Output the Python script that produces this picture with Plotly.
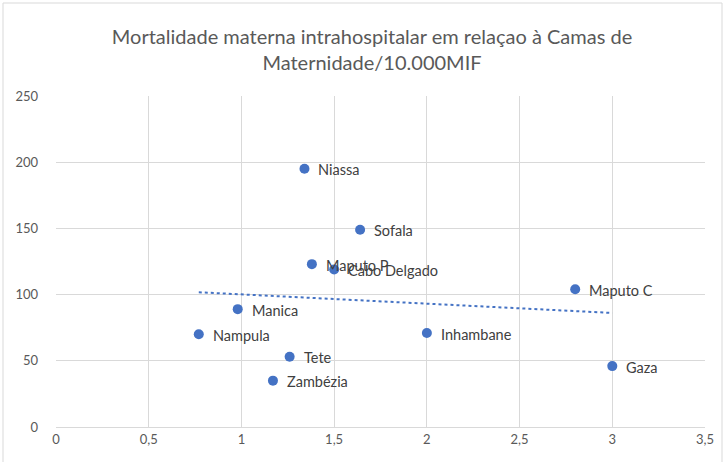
import numpy as np
import plotly.graph_objects as go

provinces = ["Niassa", "Sofala", "Maputo P", "Cabo Delgado", "Maputo C", "Manica",
             "Nampula", "Inhambane", "Tete", "Zambézia", "Gaza"]
camas = [1.34, 1.64, 1.38, 1.50, 2.80, 0.98, 0.77, 2.00, 1.26, 1.17, 3.00]
mortalidade = [195, 149, 123, 119, 104, 89, 70, 71, 53, 35, 46]

x_ticks = [0, 0.5, 1, 1.5, 2, 2.5, 3, 3.5]
x_tick_labels = ["0", "0,5", "1", "1,5", "2", "2,5", "3", "3,5"]
y_ticks = [0, 50, 100, 150, 200, 250]

slope, intercept = np.polyfit(camas, mortalidade, 1)
tx = [min(camas), max(camas)]
ty = [slope * v + intercept for v in tx]

FONT = "Lato, Open Sans, sans-serif"

fig = go.Figure()
fig.add_trace(go.Scatter(x=camas, y=mortalidade, mode="markers",
                         marker=dict(color="#4472C4", size=10), showlegend=False,
                         hoverinfo="text", text=provinces))
fig.add_trace(go.Scatter(x=tx, y=ty, mode="lines",
                         line=dict(color="#4472C4", width=2, dash="dot"),
                         showlegend=False, hoverinfo="skip"))

for name, xv, yv in zip(provinces, camas, mortalidade):
    fig.add_annotation(x=xv, y=yv, text=name, showarrow=False, xanchor="left",
                       yanchor="middle", xshift=12, yshift=-1,
                       font=dict(family=FONT, size=14.5, color="#404040"))

fig.update_layout(
    width=725, height=462,
    margin=dict(l=56, r=20, t=96, b=35),
    paper_bgcolor="white", plot_bgcolor="white",
    title=dict(text="Mortalidade materna intrahospitalar em relaçao à Camas de<br>Maternidade/10.000MIF",
               x=372 / 725, xanchor="center", y=1 - 44 / 462, yanchor="middle",
               font=dict(family=FONT, size=20, color="#595959")),
    xaxis=dict(range=[0, 3.5], tickvals=x_ticks, ticktext=x_tick_labels,
               showgrid=True, gridcolor="#d9d9d9", gridwidth=1, zeroline=False,
               showline=True, linecolor="#d9d9d9", mirror=False, ticks="",
               tickfont=dict(family=FONT, size=13, color="#595959")),
    yaxis=dict(range=[0, 250], tickvals=y_ticks,
               showgrid=True, gridcolor="#d9d9d9", gridwidth=1, zeroline=False,
               showline=False, ticks="", ticklabelstandoff=17,
               tickfont=dict(family=FONT, size=13, color="#595959")),
    shapes=[dict(type="rect", xref="paper", yref="paper",
                 x0=(3 - 56) / 649, x1=(722 - 56) / 649,
                 y0=(35 - 459) / 331, y1=(462 - 3 - 35) / 331,
                 line=dict(color="#d9d9d9", width=1), layer="above")],
)

fig.write_html("out.html", config={"displayModeBar": False})

with open("out.html", "r", encoding="utf-8") as f:
    html = f.read()
html = html.replace("<head>", "<head><style>html,body{margin:0;padding:0;overflow:hidden;}</style>", 1)
with open("out.html", "w", encoding="utf-8") as f:
    f.write(html)
